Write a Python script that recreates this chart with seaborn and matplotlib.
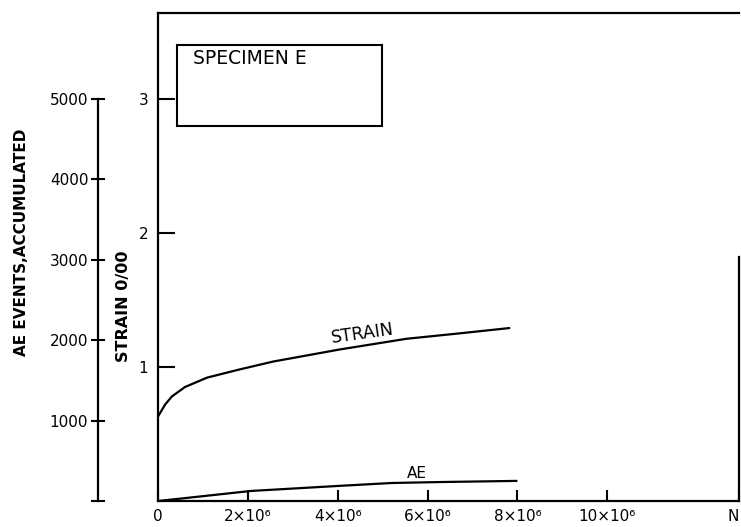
import matplotlib
matplotlib.use("Agg")
import matplotlib.pyplot as plt
import seaborn as sns
import pandas as pd
from matplotlib.patches import Rectangle

# ---- data ----
strain_n = [0.0, 0.16e6, 0.31e6, 0.6e6, 1.09e6, 1.8e6, 2.56e6, 4.04e6, 5.53e6, 6.7e6, 7.82e6]
strain_val = [0.63, 0.72, 0.78, 0.85, 0.92, 0.98, 1.04, 1.13, 1.21, 1.25, 1.29]
ae_n = [0.0, 0.42e6, 2.07e6, 4.0e6, 5.2e6, 6.3e6, 7.98e6]
ae_val = [0, 25, 125, 187, 224, 236, 250]
x_ticks = [0, 2e6, 4e6, 6e6, 8e6, 10e6]
x_ticklabels = ["0", "2×10⁶", "4×10⁶", "6×10⁶", "8×10⁶", "10×10⁶"]
strain_ticks = [1, 2, 3]
ae_ticks = [0, 1000, 2000, 3000, 4000, 5000]
ae_ticklabels = ["", "1000", "2000", "3000", "4000", "5000"]

df_s = pd.DataFrame({"N": strain_n, "strain": strain_val})
df_a = pd.DataFrame({"N": ae_n, "ae": ae_val})

sns.set_theme(style="white")
plt.rcParams["font.family"] = ["DejaVu Sans"]

fig = plt.figure(figsize=(7.41, 5.27), dpi=100)
ax = fig.add_axes([158 / 741, 1 - 501 / 527, 581 / 741, 488 / 527])
X_MAX = 12.93e6
ax.set_xlim(0, X_MAX)
ax.set_ylim(0, 3.64)

sns.lineplot(data=df_s, x="N", y="strain", ax=ax, color="black", lw=1.6)

for sp in ax.spines.values():
    sp.set_color("black")
    sp.set_linewidth(1.6)
ax.spines["right"].set_bounds(0, 1.82)

# x ticks (inward) + "N" at the right end
ax.set_xticks(x_ticks + [X_MAX])
ax.set_xticklabels(x_ticklabels + ["N"])
ax.tick_params(axis="x", direction="in", length=8, width=1.5, colors="black",
               labelsize=11, pad=6, bottom=True)
ax.get_xticklabels()[-1].set_horizontalalignment("right")
# strain ticks: inward, on both left and right
ax.set_yticks(strain_ticks)
ax.set_yticklabels([str(t) for t in strain_ticks])
ax.tick_params(axis="y", direction="in", length=12, width=1.5, colors="black",
               labelsize=11, pad=7, left=True, right=True)
ax.set_xlabel("")
ax.set_ylabel("STRAIN 0/00", fontsize=11.5, fontweight="bold", color="black")
ax.yaxis.set_label_coords(-0.046, 0.40)

# AE axis, offset to the left
ax2 = ax.twinx()
ax2.set_ylim(0, 6070)
sns.lineplot(data=df_a, x="N", y="ae", ax=ax2, color="black", lw=1.6)
for k in ["top", "right", "bottom"]:
    ax2.spines[k].set_visible(False)
ax2.spines["left"].set_visible(True)
ax2.spines["left"].set_position(("axes", -60 / 581))
ax2.spines["left"].set_bounds(0, 5000)
ax2.spines["left"].set_linewidth(1.6)
ax2.spines["left"].set_color("black")
ax2.yaxis.set_ticks_position("left")
ax2.yaxis.set_label_position("left")
ax2.set_yticks(ae_ticks)
ax2.set_yticklabels(ae_ticklabels)
ax2.tick_params(axis="y", direction="inout", length=10, width=1.5, colors="black",
                labelsize=11, pad=2)
ax2.set_ylabel("AE EVENTS,ACCUMULATED", fontsize=11, fontweight="bold", color="black")
ax2.yaxis.set_label_coords(-0.222, 0.53)
ax2.set_xlabel("")

# curve labels
ax.text(4.54e6, 1.25, "STRAIN", fontsize=12.5, rotation=8, ha="center", va="center",
        color="black")
ax2.text(5.77e6, 336, "AE", fontsize=11, ha="center", va="center", color="black")

# specimen box
ax.add_patch(Rectangle((19 / 581, 1 - 113 / 488 - 0.0), (382 - 177) / 581, (113 - 32) / 488,
                       transform=ax.transAxes, fill=False, lw=1.5, ec="black"))
ax.text(35 / 581, (501 - 58) / 488, "SPECIMEN E", transform=ax.transAxes,
        fontsize=13.5, ha="left", va="center", color="black")

fig.savefig("out.png", dpi=100, facecolor="white")
